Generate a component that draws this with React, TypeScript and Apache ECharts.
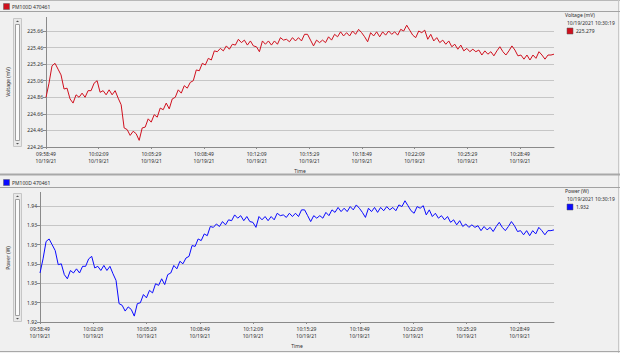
import React, { useEffect, useRef } from 'react';
import * as echarts from 'echarts';

const DEVICE = 'PM100D 470461';
const START_CLOCK = '09:58:49';
const DATE_SHORT = '10/19/21';
const SPAN_SECONDS = 1929;
const X_TICK_LABELS = ['09:58:49', '10:02:09', '10:05:29', '10:08:49', '10:12:09', '10:15:29', '10:18:49', '10:22:09', '10:25:29', '10:28:49'];
const VOLTAGE_TICKS = [224.26, 224.46, 224.66, 224.86, 225.06, 225.26, 225.46, 225.66];
const POWER_TICKS = [1.924, 1.926, 1.928, 1.93, 1.932, 1.934, 1.936];
const LEGEND_TIME = '10/19/2021 10:30:19';
const VOLTAGE_NAME = 'Voltage (mV)';
const POWER_NAME = 'Power (W)';
const VOLTAGE_CURRENT = '225.279';
const POWER_CURRENT = '1.932';

const VOLTAGE = [
  224.86, 225.03, 225.24, 225.27, 225.20, 225.13, 224.96, 224.97, 224.84, 224.79,
  224.89, 224.86, 224.91, 224.86, 224.94, 224.94, 225.03, 225.06, 224.92, 224.94,
  224.89, 224.95, 224.89, 224.94, 224.85, 224.77, 224.49, 224.47, 224.40, 224.45,
  224.42, 224.34, 224.49, 224.50, 224.60, 224.56, 224.65, 224.62, 224.73, 224.71,
  224.79, 224.72, 224.84, 224.86, 224.95, 224.91, 225.00, 224.97, 225.04, 225.06,
  225.19, 225.18, 225.27, 225.25, 225.33, 225.31, 225.42, 225.41, 225.45, 225.42,
  225.48, 225.44, 225.50, 225.49, 225.56, 225.52, 225.55, 225.49, 225.54, 225.48,
  225.47, 225.41, 225.54, 225.50, 225.54, 225.49, 225.54, 225.50, 225.58, 225.55,
  225.56, 225.53, 225.58, 225.54, 225.58, 225.54, 225.62, 225.62, 225.55, 225.48,
  225.55, 225.52, 225.55, 225.52, 225.59, 225.55, 225.62, 225.59, 225.65, 225.60,
  225.64, 225.60, 225.66, 225.62, 225.68, 225.64, 225.59, 225.53, 225.64, 225.60,
  225.65, 225.59, 225.65, 225.61, 225.66, 225.62, 225.65, 225.61, 225.68, 225.66,
  225.73, 225.67, 225.61, 225.58, 225.66, 225.64, 225.67, 225.56, 225.62, 225.54,
  225.58, 225.52, 225.55, 225.50, 225.54, 225.47, 225.50, 225.44, 225.49, 225.42,
  225.45, 225.41, 225.44, 225.41, 225.43, 225.37, 225.42, 225.38, 225.41, 225.36,
  225.42, 225.47, 225.41, 225.37, 225.42, 225.48, 225.43, 225.36, 225.37, 225.32,
  225.37, 225.31, 225.37, 225.33, 225.41, 225.37, 225.32, 225.37, 225.37, 225.38,
];

const POWER = [
  1.92907, 1.93053, 1.93233, 1.93259, 1.93199, 1.93139, 1.92993, 1.93002, 1.92890, 1.92847,
  1.92933, 1.92907, 1.92950, 1.92907, 1.92976, 1.92976, 1.93053, 1.93079, 1.92959, 1.92976,
  1.92933, 1.92985, 1.92933, 1.92976, 1.92899, 1.92830, 1.92590, 1.92573, 1.92513, 1.92556,
  1.92530, 1.92461, 1.92590, 1.92599, 1.92684, 1.92650, 1.92727, 1.92701, 1.92796, 1.92779,
  1.92847, 1.92787, 1.92890, 1.92907, 1.92985, 1.92950, 1.93028, 1.93002, 1.93062, 1.93079,
  1.93191, 1.93182, 1.93259, 1.93242, 1.93311, 1.93293, 1.93388, 1.93379, 1.93414, 1.93388,
  1.93439, 1.93405, 1.93457, 1.93448, 1.93508, 1.93474, 1.93500, 1.93448, 1.93491, 1.93439,
  1.93431, 1.93379, 1.93491, 1.93457, 1.93491, 1.93448, 1.93491, 1.93457, 1.93525, 1.93500,
  1.93508, 1.93482, 1.93525, 1.93491, 1.93525, 1.93491, 1.93560, 1.93560, 1.93500, 1.93439,
  1.93500, 1.93474, 1.93500, 1.93474, 1.93534, 1.93500, 1.93560, 1.93534, 1.93585, 1.93542,
  1.93577, 1.93542, 1.93594, 1.93560, 1.93611, 1.93577, 1.93534, 1.93482, 1.93577, 1.93542,
  1.93585, 1.93534, 1.93585, 1.93551, 1.93594, 1.93560, 1.93585, 1.93551, 1.93611, 1.93594,
  1.93654, 1.93603, 1.93551, 1.93525, 1.93594, 1.93577, 1.93603, 1.93508, 1.93560, 1.93491,
  1.93525, 1.93474, 1.93500, 1.93457, 1.93491, 1.93431, 1.93457, 1.93405, 1.93448, 1.93388,
  1.93414, 1.93379, 1.93405, 1.93379, 1.93396, 1.93345, 1.93388, 1.93353, 1.93379, 1.93336,
  1.93388, 1.93431, 1.93379, 1.93345, 1.93388, 1.93439, 1.93396, 1.93336, 1.93345, 1.93302,
  1.93345, 1.93293, 1.93345, 1.93311, 1.93379, 1.93345, 1.93302, 1.93345, 1.93345, 1.93353,
];

const FONT = 'Noto Sans';
const TXT = '#2e2e2e';
const AXIS = '#8a8a8a';
const GRIDC = '#c6c6c6';
const RED = '#d0101e';
const BLUE = '#0a0aff';

const toSec = (s: string) => {
  const [h, m, x] = s.split(':').map(Number);
  return h * 3600 + m * 60 + x;
};
const X_TICK_VALUES = X_TICK_LABELS.map((l) => toSec(l) - toSec(START_CLOCK));

const seriesData = (vals: number[]) =>
  vals.map((v, i) => [(i * SPAN_SECONDS) / (vals.length - 1), v]);

function xAxisCfg(gridIndex: number) {
  return {
    type: 'value',
    gridIndex,
    min: 0,
    max: SPAN_SECONDS,
    name: 'Time',
    nameLocation: 'middle',
    nameGap: 21,
    nameTextStyle: { fontSize: 5, color: TXT, fontFamily: FONT },
    axisLine: { show: true, onZero: false, lineStyle: { color: AXIS, width: 1 } },
    axisTick: { show: true, length: 2, customValues: X_TICK_VALUES, lineStyle: { color: AXIS } },
    axisLabel: {
      customValues: X_TICK_VALUES,
      fontSize: 5,
      lineHeight: 7,
      margin: 3,
      color: TXT,
      fontFamily: FONT,
      formatter: (v: number) => {
        const idx = X_TICK_VALUES.indexOf(Math.round(v));
        return idx >= 0 ? `${X_TICK_LABELS[idx]}\n${DATE_SHORT}` : '';
      },
    },
    splitLine: { show: false },
  };
}

function yAxisCfg(gridIndex: number, ticks: number[]) {
  return {
    type: 'value',
    gridIndex,
    min: ticks[0],
    max: ticks[ticks.length - 1],
    axisLine: { show: true, lineStyle: { color: AXIS, width: 1 } },
    axisTick: { show: true, length: 3, customValues: ticks, lineStyle: { color: AXIS } },
    axisLabel: {
      customValues: ticks,
      fontSize: 5,
      margin: 3,
      color: TXT,
      fontFamily: FONT,
      formatter: (v: number) => v.toFixed(2),
    },
    splitLine: { show: true, lineStyle: { color: GRIDC, width: 1 } },
  };
}

function panelGraphics(top: number, axisX: number, axisTop: number, gridTop: number, gridBottom: number, color: string, title: string, value: string, titleY: number) {
  const txt = (text: string, x: number, y: number, extra: any = {}) => ({
    type: 'text',
    x,
    y,
    silent: true,
    style: { text, fill: TXT, fontSize: 5, fontFamily: FONT, verticalAlign: 'middle', ...extra },
  });
  const sbTop = axisTop + 1;
  const sbH = gridBottom - axisTop - 2;
  return [
    { type: 'rect', shape: { x: 3.5, y: top + 3.5, width: 6, height: 6 }, style: { fill: color, stroke: '#5a5a5a', lineWidth: 0.5 }, silent: true },
    txt(DEVICE, 12, top + 6.5),
    { type: 'line', shape: { x1: 0, y1: top + 11.5, x2: 620, y2: top + 11.5 }, style: { stroke: '#a2a2a2', lineWidth: 1 }, silent: true },
    { type: 'line', shape: { x1: axisX + 0.5, y1: axisTop, x2: axisX + 0.5, y2: gridTop }, style: { stroke: AXIS, lineWidth: 1 }, silent: true },
    // scrollbar
    { type: 'rect', shape: { x: 13.5, y: sbTop + 0.5, width: 8, height: sbH }, style: { fill: '#e8e8e8', stroke: '#c6c6c6', lineWidth: 1 }, silent: true },
    { type: 'rect', shape: { x: 15.5, y: sbTop + 6.5, width: 4, height: sbH - 12 }, style: { fill: '#fbfbfb', stroke: '#a0a0a0', lineWidth: 1 }, silent: true },
    { type: 'polygon', shape: { points: [[16, sbTop + 4], [19, sbTop + 4], [17.5, sbTop + 2.5]] }, style: { fill: '#505050' }, silent: true },
    { type: 'polygon', shape: { points: [[16, sbTop + sbH - 3], [19, sbTop + sbH - 3], [17.5, sbTop + sbH - 1.5]] }, style: { fill: '#505050' }, silent: true },
    // axis title
    { type: 'text', x: 8, y: titleY, rotation: Math.PI / 2, silent: true, style: { text: title, fill: TXT, fontSize: 5, fontFamily: FONT, align: 'center', verticalAlign: 'middle' } },
    // legend
    txt(title, 565, top + 15),
    txt(LEGEND_TIME, 567, top + 23),
    { type: 'rect', shape: { x: 567, y: top + 28, width: 6, height: 6 }, style: { fill: color, stroke: '#5a5a5a', lineWidth: 0.5 }, silent: true },
    txt(value, 576, top + 31),
  ];
}

export default function App() {
  const ref = useRef<HTMLDivElement>(null);
  useEffect(() => {
    document.body.style.margin = '0';
    if (!ref.current) return;
    const chart = echarts.init(ref.current, undefined, { renderer: 'svg' });
    chart.setOption({
      animation: false,
      backgroundColor: '#f0f0f0',
      textStyle: { fontFamily: FONT },
      grid: [
        { left: 46, top: 31, width: 508, height: 116 },
        { left: 40, top: 206, width: 514, height: 116 },
      ],
      xAxis: [xAxisCfg(0), xAxisCfg(1)],
      yAxis: [yAxisCfg(0, VOLTAGE_TICKS), yAxisCfg(1, POWER_TICKS)],
      series: [
        {
          name: VOLTAGE_NAME,
          type: 'line',
          xAxisIndex: 0,
          yAxisIndex: 0,
          data: seriesData(VOLTAGE),
          symbol: 'none',
          clip: false,
          lineStyle: { color: RED, width: 1 },
          silent: true,
        },
        {
          name: POWER_NAME,
          type: 'line',
          xAxisIndex: 1,
          yAxisIndex: 1,
          data: seriesData(POWER),
          symbol: 'none',
          clip: false,
          lineStyle: { color: BLUE, width: 1 },
          silent: true,
        },
      ],
      graphic: [
        { type: 'line', shape: { x1: 0, y1: 0.5, x2: 620, y2: 0.5 }, style: { stroke: '#b8b8b8' }, silent: true },
        { type: 'line', shape: { x1: 618.5, y1: 0, x2: 618.5, y2: 353 }, style: { stroke: '#c8c8c8' }, silent: true },
        { type: 'line', shape: { x1: 0, y1: 174.5, x2: 620, y2: 174.5 }, style: { stroke: '#a8a8a8', lineWidth: 2 }, silent: true },
        { type: 'line', shape: { x1: 0, y1: 351.5, x2: 620, y2: 351.5 }, style: { stroke: '#a8a8a8', lineWidth: 1 }, silent: true },
        ...panelGraphics(0, 46, 17, 31, 147, RED, VOLTAGE_NAME, VOLTAGE_CURRENT, 82),
        ...panelGraphics(176, 40, 192, 206, 322, BLUE, POWER_NAME, POWER_CURRENT, 258),
      ],
    });
    return () => chart.dispose();
  }, []);
  return <div ref={ref} style={{ width: 620, height: 353 }} />;
}
